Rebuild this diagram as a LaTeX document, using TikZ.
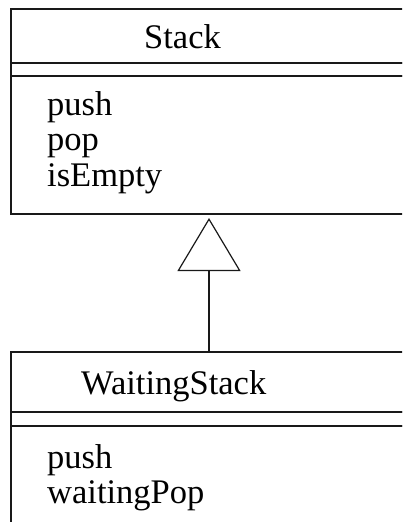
\documentclass[tikz,border=0pt]{standalone}
\usepackage{fontspec}
\setmainfont{Liberation Serif}
\usetikzlibrary{arrows.meta,positioning}
\tikzset{
  part/.style={draw=black!90,line width=1.6pt,minimum width=419pt,anchor=north west,
    inner sep=0pt,outer sep=0pt},
  cname/.style={anchor=base west,inner sep=0pt,font=\fontsize{34.5}{36}\selectfont},
  op/.style={anchor=base west,inner sep=0pt,font=\fontsize{34.5}{36}\selectfont},
  generalize/.style={-{Triangle[open,length=53pt,width=63pt,line width=1.2pt]},
    line width=1.6pt,draw=black!90},
}
\begin{document}
\begin{tikzpicture}[x=1pt,y=-1pt]
  \useasboundingbox (0,0) rectangle (402,522);
  \clip (0,0) rectangle (402,522);
  % superclass
  \node[part,minimum height=54pt] (sname) at (11,9) {};
  \node[part,minimum height=13pt] (sattr) at (sname.south west) {};
  \node[part,minimum height=138pt] (sops) at (sattr.south west) {};
  \node[cname] (stitle) at (144,48) {Stack};
  \foreach \t [count=\i] in {push,pop,isEmpty}
    \node[op] (sop\i) at (47,{115+35.5*(\i-1)}) {\t};
  % subclass
  \node[part,minimum height=60pt] (wname) at (11,352) {};
  \node[part,minimum height=14pt] (wattr) at (wname.south west) {};
  \node[part,minimum height=130pt] (wops) at (wattr.south west) {};
  \node[cname] (wtitle) at (81,394) {WaitingStack};
  \foreach \t [count=\i] in {push,waitingPop}
    \node[op] (wop\i) at (47,{468+35*(\i-1)}) {\t};
  % inheritance
  \coordinate (apex) at (209,218);
  \draw[generalize] (wname.north -| apex) -- (apex);
\end{tikzpicture}
\end{document}
